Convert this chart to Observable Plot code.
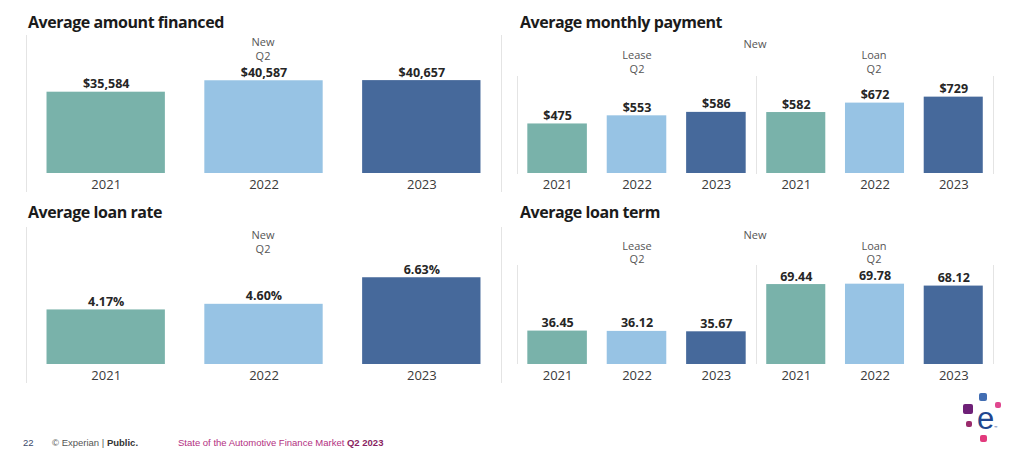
<!DOCTYPE html>
<html><head><meta charset="utf-8">
<script src="https://cdn.jsdelivr.net/npm/d3@7"></script>
<script src="https://cdn.jsdelivr.net/npm/@observablehq/plot@0.6"></script>
<style>
body{margin:0;background:#fff;font-family:"Open Sans",sans-serif;}
#root{position:relative;width:1024px;height:462px;overflow:hidden;background:#fff;}
.abs{position:absolute;white-space:nowrap;}
.title{font-weight:700;font-size:16px;letter-spacing:-0.45px;color:#1b1b1b;transform:translateY(-50%);line-height:1;}
.hdr{font-size:11px;color:#555;transform:translate(-50%,-50%);line-height:1;}
.vline{position:absolute;width:1px;background:#e4e4e4;}
.foot{font-family:"Liberation Sans",Arial,sans-serif;font-size:9.5px;transform:translateY(-50%);line-height:1;}
.dot{position:absolute;border-radius:2px;}
</style></head><body><div id="root"></div>
<script>
// ---- data ----
const years = ["2021", "2022", "2023"];
const amountFinanced = [35584, 40587, 40657];
const loanRate = [4.17, 4.60, 6.63];
const leasePayment = [475, 553, 586];
const loanPayment = [582, 672, 729];
const leaseTerm = [36.45, 36.12, 35.67];
const loanTerm = [69.44, 69.78, 68.12];
const yearColors = ["#79b2aa", "#97c3e4", "#46699b"];
const titles = ["Average amount financed", "Average monthly payment", "Average loan rate", "Average loan term"];

const root = document.getElementById("root");

function bars(values, fmt, yMax, w, h, mb) {
  const data = years.map((yr, i) => ({year: yr, value: values[i], label: fmt(values[i])}));
  return Plot.plot({
    width: w, height: h, marginTop: 0, marginBottom: mb, marginLeft: 0, marginRight: 0,
    style: {fontFamily: '"Open Sans", sans-serif', fontSize: "13px", color: "#3a3a3a", background: "transparent", overflow: "visible"},
    x: {domain: years, paddingInner: 0.25, paddingOuter: 0.13, round: false, label: null, tickSize: 0, tickPadding: 6},
    y: {domain: [0, yMax], axis: null},
    color: {domain: years, range: yearColors},
    marks: [
      Plot.barY(data, {x: "year", y: "value", fill: "year"}),
      Plot.text(data, {x: "year", y: "value", text: "label", dy: -4, lineAnchor: "bottom", fontWeight: "bold", fontSize: 12.5, fill: "#262626"})
    ]
  });
}

function place(node, left, top) {
  const d = document.createElement("div");
  d.className = "abs";
  d.style.left = left + "px"; d.style.top = top + "px";
  d.appendChild(node);
  root.appendChild(d);
}
function label(str, cls, left, top) {
  const d = document.createElement("div");
  d.className = "abs " + cls;
  d.style.left = left + "px"; d.style.top = top + "px";
  d.innerHTML = str;
  root.appendChild(d);
}
function vline(x, y1, y2) {
  const d = document.createElement("div");
  d.className = "vline";
  d.style.left = x + "px"; d.style.top = y1 + "px"; d.style.height = (y2 - y1) + "px";
  root.appendChild(d);
}

const fmtDollar = d3.format("$,");
const fmtPct = v => d3.format(".2f")(v) + "%";
const fmt2 = d3.format(".2f");

// Panel 1: amount financed
label(titles[0], "title", 28, 22);
vline(26, 35, 192); vline(501, 35, 192);
place(bars(amountFinanced, fmtDollar, 60400, 475, 160, 22), 26, 35);
label("New", "hdr", 263, 41);
label("Q2", "hdr", 263, 54.5);

// Panel 2: monthly payment
label(titles[1], "title", 520, 22);
vline(517, 76, 174); vline(756, 76, 174); vline(993, 76, 174);
place(bars(leasePayment, fmtDollar, 930, 239, 118, 21), 517, 76);
place(bars(loanPayment, fmtDollar, 926, 237, 118, 21), 756, 76);
label("New", "hdr", 755, 43);
label("Lease", "hdr", 637, 54);
label("Q2", "hdr", 637, 68);
label("Loan", "hdr", 874, 54);
label("Q2", "hdr", 874, 68);

// Panel 3: loan rate
label(titles[2], "title", 28, 212);
vline(26, 227, 383); vline(501, 227, 383);
place(bars(loanRate, fmtPct, 10.47, 475, 158, 21), 26, 227);
label("New", "hdr", 263, 234);
label("Q2", "hdr", 263, 248);

// Panel 4: loan term
label(titles[3], "title", 520, 212);
vline(517, 265, 364); vline(756, 265, 364); vline(993, 265, 364);
place(bars(leaseTerm, fmt2, 108, 239, 120, 21), 517, 265);
place(bars(loanTerm, fmt2, 86, 237, 120, 21), 756, 265);
label("New", "hdr", 755, 234);
label("Lease", "hdr", 637, 245);
label("Q2", "hdr", 637, 258);
label("Loan", "hdr", 874, 245);
label("Q2", "hdr", 874, 258);

// Footer
label('<span style="color:#3b4a6b">22</span>', "foot", 23, 443);
label('<span style="color:#555">© Experian | </span><b style="color:#333">Public.</b>', "foot", 52, 443);
label('<span style="color:#b3307f">State of the Automotive Finance Market </span><b style="color:#8a1f62">Q2 2023</b>', "foot", 178, 443);

// Logo
function dot(x, y, s, c) {
  const d = document.createElement("div");
  d.className = "dot";
  d.style.left = x + "px"; d.style.top = y + "px"; d.style.width = s + "px"; d.style.height = s + "px"; d.style.background = c;
  root.appendChild(d);
}
dot(979, 393, 8, "#426db2");
dot(995, 402, 6, "#e0478f");
dot(963, 404, 10, "#6e2077");
dot(966, 421, 6, "#9a2b6c");
dot(980, 435, 7, "#e23a7d");
label('<span style="color:#21468f;font-size:31px;font-family:Arial,sans-serif;line-height:1">e</span><span style="color:#21468f;font-size:4px;">™</span>', "", 977, 403);
</script></body></html>
